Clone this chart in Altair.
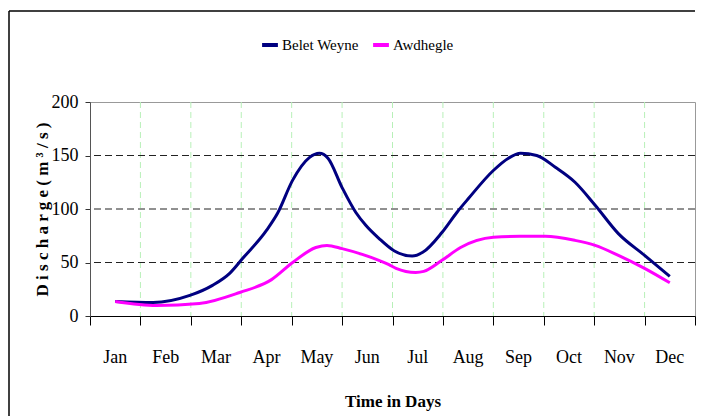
import altair as alt
import pandas as pd

months = ["Jan", "Feb", "Mar", "Apr", "May", "Jun", "Jul", "Aug", "Sep", "Oct", "Nov", "Dec"]
series_names = ["Belet Weyne", "Awdhegle"]

bw_t = [0.5, 1.25, 1.98, 2.43, 2.77, 3.03, 3.5, 3.72, 4.02, 4.35, 4.55, 4.72, 5.0, 5.27, 5.47, 5.73,
        6.03, 6.39, 6.6, 6.98, 7.28, 7.51, 8.0, 8.3, 8.54, 8.86, 9.23, 9.62, 10.02, 10.48, 11.0, 11.5]
bw_q = [13.6, 12.6, 19.2, 28.6, 39.8, 53.9, 80, 96, 127, 148, 152, 147.5, 120, 97, 84.8, 72.6,
        61, 56, 59.5, 78, 97, 110, 136, 147.5, 152, 150, 139, 125, 103.5, 77, 56.7, 37]

aw_t = [0.5, 1.32, 2.17, 2.97, 3.6, 4.02, 4.48, 4.7, 5.0, 5.4, 5.73, 5.93, 6.07, 6.46, 6.62, 6.98,
        7.35, 8.0, 8.53, 9.03, 9.62, 10.02, 10.48, 11.0, 11.5]
aw_q = [13.6, 9.8, 11.7, 22, 34, 50, 64, 66, 63, 57.6, 52, 48, 44.5, 40.7, 41.7, 52,
        64, 73.5, 74.5, 74.5, 70.7, 66, 56.7, 44.5, 31]

y_ticks = [0, 50, 100, 150, 200]
h_grid = [50, 100, 150]
v_grid = list(range(1, 12))

W, H = 605, 214
FONT = "Liberation Serif"

df = pd.concat([
    pd.DataFrame({"t": bw_t, "q": bw_q, "series": series_names[0]}),
    pd.DataFrame({"t": aw_t, "q": aw_q, "series": series_names[1]}),
])

xscale = alt.Scale(domain=[0, 12], nice=False, zero=False)
yscale = alt.Scale(domain=[0, 200], nice=False)

vgrid = alt.Chart(pd.DataFrame({"t": v_grid})).mark_rule(
    color="#b8f0b8", strokeDash=[6, 4], strokeWidth=1
).encode(x=alt.X("t:Q", scale=xscale))

hgrid = alt.Chart(pd.DataFrame({"q": h_grid})).mark_rule(
    color="#222222", strokeDash=[7, 4], strokeWidth=1
).encode(y=alt.Y("q:Q", scale=yscale))

lines = alt.Chart(df).mark_line(strokeWidth=3, interpolate="monotone").encode(
    x=alt.X("t:Q", scale=xscale,
            axis=alt.Axis(values=list(range(0, 13)), labels=False, ticks=True, tickSize=9,
                          tickColor="black", domainColor="black", grid=False,
                          title="Time in Days", titleFont=FONT, titleFontSize=17,
                          titleFontWeight="bold", titleY=85, titleBaseline="middle")),
    y=alt.Y("q:Q", scale=yscale,
            axis=alt.Axis(values=y_ticks, tickSize=5, tickColor="#333", domainColor="#555",
                          grid=False, labelFont=FONT, labelFontSize=18, labelColor="black",
                          labelPadding=7,
                          title="D i s c h a r g e  ( m ³ / s )", titleFont=FONT,
                          titleFontSize=17, titleFontWeight="bold", titleX=-48,
                          titleY=H / 2, titleAlign="center", titleBaseline="middle")),
    color=alt.Color("series:N",
                    scale=alt.Scale(domain=series_names, range=["#000080", "#ff00ff"]),
                    legend=alt.Legend(orient="none", legendX=170, legendY=-67,
                                      direction="horizontal", title=None,
                                      symbolType="stroke", symbolStrokeWidth=4,
                                      symbolSize=250, labelFont=FONT, labelFontSize=15,
                                      labelColor="black", columnPadding=6, labelOffset=2)),
)

mlabels = alt.Chart(pd.DataFrame({"m": months, "t": [i + 0.5 for i in range(12)]})).mark_text(
    font=FONT, fontSize=18, baseline="middle", color="black"
).encode(x=alt.X("t:Q", scale=xscale), y=alt.value(H + 42), text="m:N")

frame_top = alt.Chart(pd.DataFrame({"a": [0]})).mark_rule(
    color="black", strokeWidth=1.5
).encode(x=alt.value(-81), x2=alt.value(W), y=alt.value(-91))

frame_left = alt.Chart(pd.DataFrame({"a": [0]})).mark_rule(
    color="black", strokeWidth=1.5
).encode(x=alt.value(-81), y=alt.value(-91), y2=alt.value(H + 100))

chart = alt.layer(vgrid, hgrid, lines, mlabels, frame_top, frame_left).properties(
    width=W, height=H, padding={"left": 0, "top": 2, "right": 0, "bottom": 0}
).configure(font=FONT).configure_axis(labelFont=FONT, titleFont=FONT).configure_legend(
    labelFont=FONT
).configure_view(stroke="#999999", strokeWidth=1)

chart.save("out.html", embed_options={"renderer": "svg", "actions": False})
